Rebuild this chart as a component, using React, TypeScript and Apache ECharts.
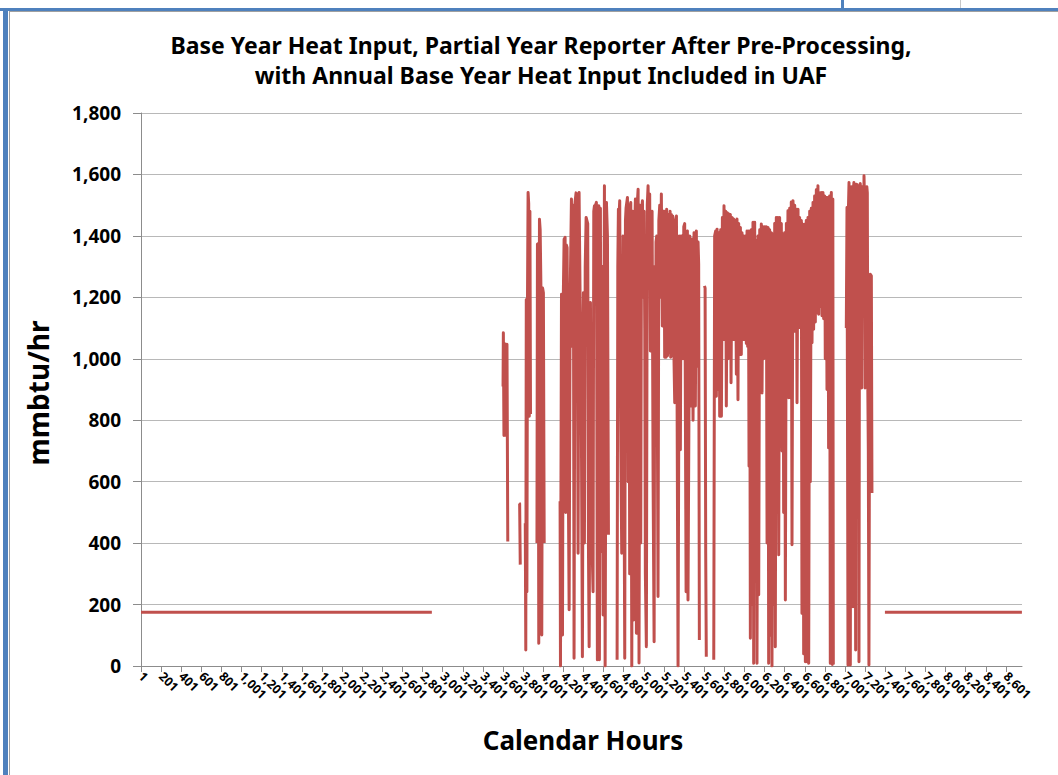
import React, { useEffect, useRef } from "react";
import * as echarts from "echarts";

const titleLine1 = "Base Year Heat Input, Partial Year Reporter After Pre-Processing,";
const titleLine2 = "with Annual Base Year Heat Input Included in UAF";
const yAxisTitle = "mmbtu/hr";
const xAxisTitle = "Calendar Hours";

const yMin = 0;
const yMax = 1800;
const yStep = 200;

const xTickHours = [
  1, 201, 401, 601, 801, 1001, 1201, 1401, 1601, 1801, 2001, 2201, 2401, 2601, 2801,
  3001, 3201, 3401, 3601, 3801, 4001, 4201, 4401, 4601, 4801, 5001, 5201, 5401, 5601,
  5801, 6001, 6201, 6401, 6601, 6801, 7001, 7201, 7401, 7601, 7801, 8001, 8201, 8401, 8601,
];
const lastHour = 8760;

// Annual base year heat input spread over the non-reported hours
const baseBefore: [number, number][] = [[1, 175], [2893, 175]];
const baseAfter: [number, number][] = [[7398, 175], [8760, 175]];

// Reported hourly heat input (hour, mmbtu/hr), in separate runs
const runA: [number, number][] = [
  [3601, 910], [3604, 1085], [3610, 750], [3614, 1050], [3625, 1045], [3632, 750], [3640, 1047], [3648, 405],
];
const runB: [number, number][] = [[3760, 530], [3766, 528], [3772, 330]];
const runC: [number, number][] = [
  [3822, 465], [3827, 52], [3832, 1193], [3838, 242], [3844, 1200], [3850, 1541], [3856, 1505],
  [3862, 813], [3868, 1480], [3874, 820],
];
const runD: [number, number][] = [
  [3938, 400], [3943, 1373], [3950, 1375], [3956, 74], [3963, 1454], [3970, 1420], [3978, 1220],
  [3986, 101], [3994, 1230], [4002, 1215], [4010, 400],
];
const runE: [number, number][] = [
  [4168, 536], [4172, 0], [4182, 1210], [4192, 101], [4200, 1200], [4208, 1389], [4218, 1395],
  [4224, 500], [4231, 1370], [4238, 1362], [4250, 600], [4258, 183], [4268, 1200], [4281, 1520],
  [4291, 1040], [4300, 1500], [4307, 25], [4317, 1510], [4327, 1540], [4337, 1480], [4347, 367],
  [4357, 1541], [4367, 1200], [4377, 1000], [4390, 30], [4400, 1215], [4410, 400], [4418, 1300],
  [4427, 1460], [4435, 1450], [4443, 1440], [4450, 394], [4457, 63], [4470, 1183], [4480, 482],
  [4496, 242], [4503, 1480], [4510, 1498], [4520, 1500], [4529, 1509], [4539, 20], [4553, 1498],
  [4559, 20], [4569, 1490], [4576, 373], [4586, 1300], [4596, 166], [4609, 1563], [4616, 0],
  [4629, 1509], [4639, 1400], [4649, 427],
];
const runF: [number, number][] = [
  [4735, 20], [4742, 1300], [4748, 1487], [4755, 1470], [4761, 1514], [4770, 800], [4781, 367],
  [4794, 1400], [4800, 1000], [4811, 25], [4818, 1450], [4824, 1490], [4838, 1525], [4845, 600],
  [4854, 1476], [4860, 300], [4866, 1500], [4871, 1509], [4881, 0], [4891, 1480], [4900, 150],
  [4908, 1400], [4917, 1520], [4927, 107], [4935, 1500], [4944, 1552], [4953, 10], [4963, 1500],
  [4970, 400], [4978, 1480], [4987, 1514], [4995, 1200], [5003, 1480], [5010, 1100], [5016, 300],
  [5026, 63], [5035, 1500], [5043, 1563], [5051, 1400], [5059, 1536], [5066, 1025], [5075, 1450],
  [5083, 1480], [5093, 600], [5103, 79], [5110, 1300], [5116, 759], [5122, 1380], [5129, 1400],
  [5142, 226], [5150, 1450], [5159, 1500], [5167, 1200], [5175, 1536], [5185, 1107], [5193, 1480],
  [5202, 1480], [5208, 1005], [5215, 1450], [5222, 1005], [5228, 1487], [5236, 1010], [5245, 1470],
  [5253, 1020], [5262, 1480], [5268, 1005], [5275, 1470], [5282, 1010], [5288, 1465], [5298, 1052],
  [5308, 857], [5316, 1450], [5325, 1465], [5341, 0], [5354, 1400], [5364, 704], [5372, 1400],
  [5381, 1400], [5390, 1000], [5398, 1430], [5407, 1440], [5421, 242], [5428, 1410], [5434, 1416],
  [5440, 215], [5450, 867], [5457, 1400], [5464, 1400], [5474, 846], [5480, 1390], [5490, 800],
  [5500, 1410], [5507, 1400], [5513, 846], [5523, 1416], [5530, 976], [5540, 1380], [5546, 1308],
  [5553, 85],
];
const runG: [number, number][] = [[5604, 1237], [5610, 1230], [5616, 367], [5622, 30]];
const runH: [number, number][] = [
  [5696, 20], [5705, 1400], [5715, 1416], [5722, 878], [5729, 1422], [5742, 900], [5749, 1410],
  [5755, 813], [5765, 1420], [5772, 813], [5782, 1460], [5788, 1063], [5798, 1498], [5808, 1063],
  [5815, 1480], [5821, 846], [5831, 1475], [5838, 1000], [5848, 1471], [5855, 1003], [5861, 1470],
  [5868, 922], [5878, 1460], [5888, 1063], [5894, 1455], [5904, 1063], [5911, 1450], [5921, 950],
  [5927, 1455], [5937, 867], [5944, 1440], [5954, 1014], [5961, 1427], [5970, 1014], [5977, 1410],
  [5987, 1063], [5994, 1400], [6004, 1063], [6010, 1400], [6020, 1050], [6027, 1416], [6033, 1040],
  [6040, 1416], [6047, 650], [6053, 1416], [6060, 90], [6070, 1420], [6077, 200], [6086, 1444],
  [6093, 9], [6103, 1444], [6110, 313], [6120, 1384], [6126, 9], [6136, 1400], [6143, 232],
  [6153, 1420], [6159, 900], [6169, 1439], [6176, 889], [6186, 1430], [6192, 1000], [6202, 1430],
  [6209, 1058], [6219, 1430], [6226, 400], [6236, 1427], [6242, 9], [6252, 1420], [6259, 100],
  [6269, 1410], [6275, 0], [6285, 1405], [6292, 200], [6302, 1440], [6308, 63], [6318, 1460],
  [6325, 800], [6335, 1460], [6342, 362], [6351, 1460], [6358, 922], [6368, 1440], [6375, 700],
  [6385, 1405], [6391, 500], [6401, 1410], [6408, 215], [6418, 1440], [6424, 1069], [6434, 1482],
  [6441, 873], [6451, 1490], [6457, 873], [6467, 1510], [6474, 395], [6484, 1514], [6491, 1090],
  [6501, 1500], [6507, 1090], [6517, 1487], [6524, 857], [6534, 1487], [6540, 1101], [6550, 1460],
  [6557, 1101], [6567, 1450], [6573, 172], [6583, 1438], [6590, 40], [6600, 1438], [6607, 14],
  [6616, 1450], [6623, 14], [6633, 1460], [6640, 9], [6650, 1480], [6656, 600], [6666, 1490],
  [6673, 1052], [6683, 1509], [6689, 1096], [6699, 1530], [6706, 1120], [6716, 1550], [6723, 1150],
  [6732, 1563], [6739, 1145], [6749, 1540], [6756, 1170], [6766, 1541], [6772, 1140], [6782, 1541],
  [6789, 1130], [6799, 1530], [6805, 1000], [6815, 1525], [6822, 900], [6832, 1525], [6838, 710],
  [6848, 1530], [6855, 9], [6865, 1541], [6875, 5], [6880, 1520], [6885, 5],
];
const runI: [number, number][] = [
  [7014, 1100], [7021, 1492], [7026, 800], [7031, 3], [7036, 1500], [7041, 1574], [7048, 1000],
  [7054, 3], [7060, 1550], [7064, 1560], [7072, 1200], [7080, 193], [7086, 1560], [7090, 1574],
  [7098, 1400], [7107, 52], [7112, 1550], [7117, 1568], [7124, 1300], [7130, 1000], [7135, 1560],
  [7140, 14], [7146, 1565], [7153, 1570], [7160, 1200], [7166, 905], [7173, 1560], [7180, 1560],
  [7186, 1200], [7190, 1596], [7196, 1500], [7200, 905], [7206, 1540], [7213, 1123], [7218, 1560],
  [7223, 1540], [7228, 900], [7233, 700], [7239, 3], [7246, 1000], [7253, 1275], [7263, 1270],
  [7269, 563],
];

const runs = [baseBefore, runA, runB, runC, runD, runE, runF, runG, runH, runI, baseAfter];

const LINE_COLOR = "#C0504D";
const FONT = "'Noto Sans', 'DejaVu Sans', sans-serif";

export default function App() {
  const ref = useRef<HTMLDivElement>(null);

  useEffect(() => {
    if (!ref.current) return;
    const chart = echarts.init(ref.current, undefined, { renderer: "svg" });
    const fmt = (v: number) => Math.round(v).toLocaleString("en-US");

    chart.setOption({
      animation: false,
      backgroundColor: "#ffffff",
      textStyle: { fontFamily: FONT },
      grid: { left: 141, right: 36, top: 113, bottom: 109, containLabel: false },
      xAxis: {
        type: "value",
        min: 1,
        max: lastHour + 1,
        axisLine: { show: true, lineStyle: { color: "#8c8c8c", width: 1 } },
        axisTick: { show: true, length: 6, customValues: xTickHours, lineStyle: { color: "#8c8c8c" } },
        axisLabel: {
          customValues: xTickHours,
          formatter: (v: number) => fmt(v),
          rotate: -45,
          margin: 8,
          fontSize: 12.5,
          fontWeight: "bold",
          color: "#000",
          fontFamily: FONT,
        },
        splitLine: { show: false },
      },
      yAxis: {
        type: "value",
        min: yMin,
        max: yMax,
        interval: yStep,
        axisLine: { show: true, lineStyle: { color: "#8c8c8c", width: 1 } },
        axisTick: { show: true, length: 8, lineStyle: { color: "#8c8c8c" } },
        axisLabel: {
          formatter: (v: number) => fmt(v),
          margin: 20,
          fontSize: 19,
          fontWeight: "bold",
          color: "#000",
          fontFamily: FONT,
        },
        splitLine: { show: true, lineStyle: { color: "#b8b8b8", width: 1 } },
      },
      series: runs.map((run) => ({
        type: "line",
        data: run,
        showSymbol: false,
        symbol: "none",
        lineStyle: { color: LINE_COLOR, width: 3, join: "round" },
        itemStyle: { color: LINE_COLOR },
        z: 3,
      })),
      graphic: [
        { type: "rect", shape: { x: 0, y: 8, width: 1058, height: 3 }, style: { fill: "#4F81BD" }, silent: true },
        { type: "rect", shape: { x: 3, y: 8, width: 5, height: 767 }, style: { fill: "#4F81BD" }, silent: true },
        { type: "line", shape: { x1: 9.5, y1: 11, x2: 9.5, y2: 775 }, style: { stroke: "#a0a0a0", lineWidth: 1 }, silent: true },
        { type: "line", shape: { x1: 9, y1: 11.5, x2: 1058, y2: 11.5 }, style: { stroke: "#a0a0a0", lineWidth: 1 }, silent: true },
        { type: "rect", shape: { x: 841, y: 0, width: 3, height: 9 }, style: { fill: "#4F81BD" }, silent: true },
        { type: "line", shape: { x1: 960.5, y1: 0, x2: 960.5, y2: 8 }, style: { stroke: "#c8c8c8", lineWidth: 1 }, silent: true },
        {
          type: "text",
          x: 541,
          y: 45,
          style: { text: titleLine1, align: "center", verticalAlign: "middle", font: `bold 23px ${FONT}`, fill: "#000" },
        },
        {
          type: "text",
          x: 541,
          y: 75,
          style: { text: titleLine2, align: "center", verticalAlign: "middle", font: `bold 23px ${FONT}`, fill: "#000" },
        },
        {
          type: "text",
          x: 38,
          y: 393,
          rotation: Math.PI / 2,
          style: { text: yAxisTitle, align: "center", verticalAlign: "middle", font: `bold 28px ${FONT}`, fill: "#000" },
        },
        {
          type: "text",
          x: 583,
          y: 740,
          style: { text: xAxisTitle, align: "center", verticalAlign: "middle", font: `bold 26px ${FONT}`, fill: "#000" },
        },
      ],
    });

    return () => chart.dispose();
  }, []);

  return (
    <div
      ref={ref}
      style={{ position: "absolute", left: 0, top: 0, width: 1058, height: 775, background: "#fff" }}
    />
  );
}
